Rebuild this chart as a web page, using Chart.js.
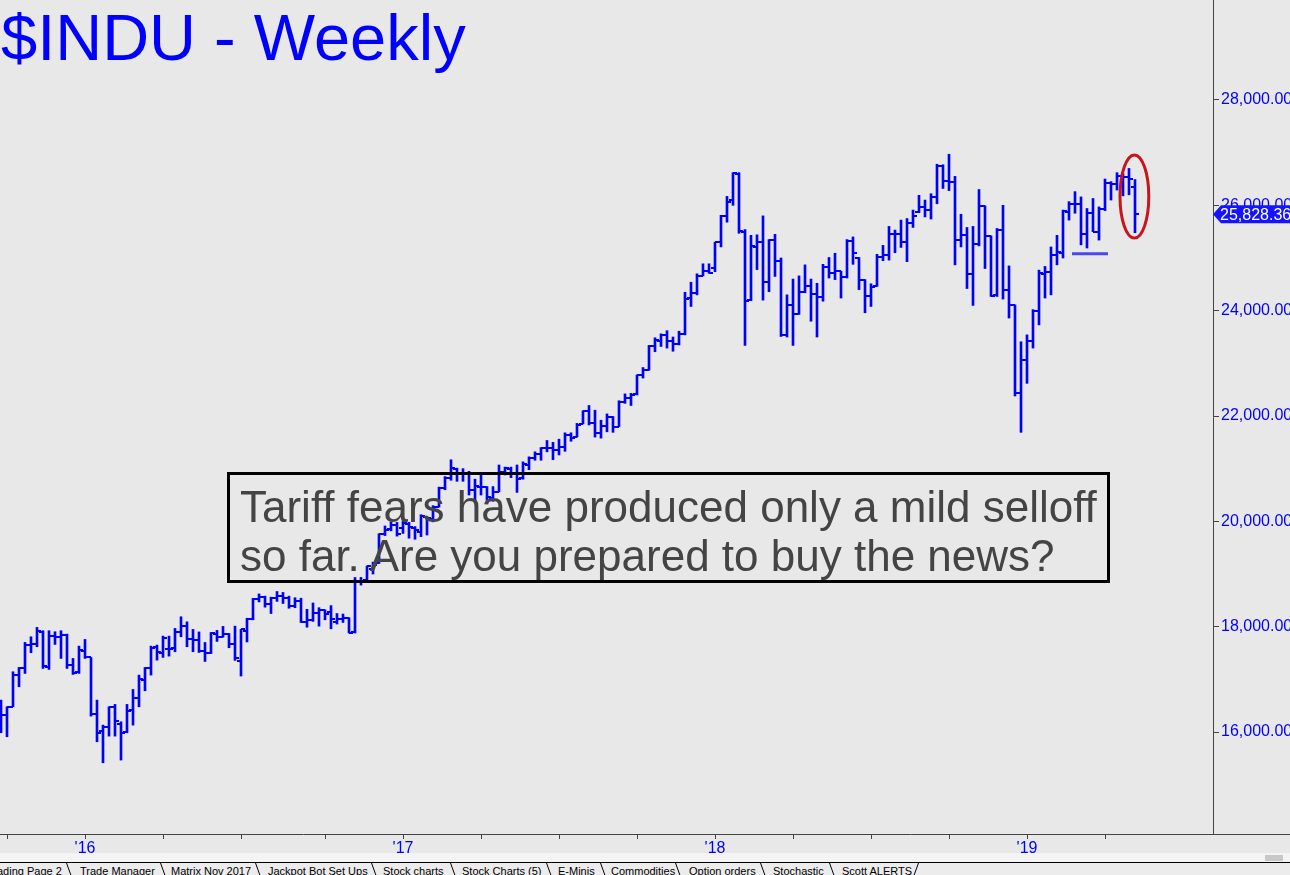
<!DOCTYPE html>
<html>
<head>
<meta charset="utf-8">
<script src="https://cdn.jsdelivr.net/npm/chart.js@4.4.1/dist/chart.umd.min.js"></script>
<style>
  html, body { margin: 0; padding: 0; background: #e8e8e8; overflow: hidden; }
  #wrap { position: relative; width: 1290px; height: 875px; overflow: hidden; font-family: "Liberation Sans", Arial, sans-serif; }
  #c { position: absolute; left: 0; top: 0; }
  .title { position: absolute; left: 1px; top: 5px; font-size: 65px; line-height: 65px; color: #0000ff; white-space: nowrap; }
  .note { position: absolute; left: 227px; top: 472px; width: 883px; height: 111px; box-sizing: border-box; border: 3px solid #000; }
  .note div { position: absolute; left: 10px; font-size: 44px; line-height: 44px; color: #444; white-space: nowrap; }
  .track { position: absolute; left: 0; top: 853px; width: 1290px; height: 9px; background: #f4f4f4; }
  .thumb { position: absolute; left: 1265px; top: 855px; width: 18px; height: 6px; background: #c8c8c8; }
  .tabs { position: absolute; left: 0; top: 862px; width: 1290px; height: 13px; border-top: 1px solid #000; background: #ececec; }
  .tab { position: absolute; top: 2px; font-size: 11px; line-height: 13px; color: #000; white-space: nowrap; }
  .sep { position: absolute; top: 0; width: 1px; height: 14px; background: #000; transform-origin: top; transform: skewX(20deg); }
</style>
</head>
<body>
<div id="wrap">
  <canvas id="c" width="1290" height="875"></canvas>
  <div class="title">$INDU - Weekly</div>
  <div class="note">
    <div style="top:10px">Tariff fears have produced only a mild selloff</div>
    <div style="top:59px">so far. Are you prepared to buy the news?</div>
  </div>
  <div class="track"></div>
  <div class="thumb"></div>
  <div class="tabs" id="tabs"></div>
</div>
<script>
// weekly bars, week ending 25 Sep 2015 (index 0) to 10 May 2019 (index 189)
const opens = [
  16400,16321,16479,17081,17207,17650,17669,17904,17226,17821,
  17809,17840,17271,17144,17543,17416,16340,16024,16087,16479,
  16150,16005,16416,16638,16986,17207,17606,17505,17568,17587,
  17904,18011,17758,17740,17530,17500,17870,17810,17860,17680,
  17350,17925,18150,18520,18570,18430,18545,18580,18550,18400,
  18490,18080,18125,18260,18310,18280,18090,18150,18160,17900,
  18850,18880,19100,19200,19760,19850,19930,19870,19950,19880,
  19800,20080,20050,20270,20640,20820,21000,20900,20920,20590,
  20660,20650,20450,20560,20940,21000,20900,20820,21070,21200,
  21270,21390,21400,21350,21410,21640,21610,21850,22090,21860,
  21680,21810,21990,21800,22270,22350,22410,22770,22870,23330,
  23430,23540,23420,23360,23560,24240,24330,24660,24750,24810,
  25300,25800,26100,26600,25500,24200,25200,25300,24540,25340,
  24950,23540,24100,23930,24360,24460,24310,24260,24830,24720,
  24750,24630,25320,25000,24580,24270,24460,25020,25060,25450,
  25460,25310,25670,25880,25960,25920,26150,26740,26460,26440,
  25340,25440,24690,25270,25990,25410,24300,25540,24390,24100,
  22440,23060,23430,24000,24700,24740,25060,25100,25880,26030,
  26020,25450,25850,25500,25930,26420,26410,26560,26540,26350
];
const highs = [
  16606,16479,17144,17226,17701,17809,17986,17923,17923,17904,
  17923,17859,17397,17631,17758,17416,16606,16131,16479,16524,
  16194,16524,16808,17081,17226,17631,17650,17821,17821,17967,
  18188,18093,17948,17900,17700,17890,17930,18005,17870,18010,
  17950,18160,18537,18622,18580,18560,18668,18650,18580,18550,
  18540,18330,18450,18360,18320,18400,18250,18240,18170,18934,
  18935,19153,19225,19763,19912,19987,19980,19999,19980,19900,
  20126,20090,20298,20650,20850,21169,21010,21000,20950,20800,
  20890,20660,20660,21070,21030,21030,21070,21130,21225,21320,
  21400,21535,21500,21560,21681,21681,21860,22100,22200,22110,
  21920,22040,21990,22290,22420,22430,22780,22920,23340,23485,
  23560,23620,23500,23610,24350,24540,24700,24890,24890,25300,
  25810,26170,26620,26620,25540,25430,25440,25800,25350,25450,
  25000,24300,24600,24660,24870,24600,24520,24880,25010,25090,
  24750,25350,25400,25010,24590,24510,25070,25240,25600,25530,
  25720,25750,25910,26190,26100,26220,26780,26770,26970,26550,
  25830,25580,25600,26300,25990,25420,25560,26000,24850,24110,
  23410,23540,24020,24770,24840,25210,25430,25910,26070,26260,
  26160,25940,26130,25970,26500,26450,26620,26600,26700,26490
];
const lows = [
  15986,15910,16479,16859,17112,17505,17619,17207,17188,17663,
  17397,17207,17093,17112,17397,16302,15815,15416,15922,15922,
  15467,15986,16131,16479,16783,17081,17365,17416,17441,17524,
  17809,17619,17524,17510,17340,17490,17720,17800,17600,17360,
  17063,17710,18130,18470,18370,18250,18480,18440,18350,18360,
  18080,17990,18100,18010,18130,17960,18050,18080,17880,17880,
  18790,18880,19000,19200,19730,19820,19720,19770,19680,19660,
  19710,19740,19990,20270,20600,20780,20760,20760,20500,20410,
  20500,20400,20380,20560,20880,20830,20550,20800,20980,21160,
  21160,21320,21170,21260,21330,21520,21600,21850,21830,21600,
  21580,21700,21690,21800,22240,22200,22400,22720,22870,23220,
  23320,23290,23230,23350,23540,24080,24300,24660,24710,24740,
  25210,25680,26000,25470,23340,24190,24780,24200,24360,24650,
  23510,23500,23340,23930,24340,23800,23500,24180,24620,24590,
  24240,24620,24880,24400,23960,24080,24460,24950,24960,25100,
  25200,24930,25580,25860,25780,25740,26030,26320,26280,24870,
  25210,24420,24100,25230,24800,24270,24270,24220,23860,22380,
  21690,22620,23290,23730,24240,24300,24870,25000,25720,25850,
  25250,25190,25500,25340,25900,26100,26290,26180,26200,25480
];
const closes = [
  16321,16472,17084,17215,17647,17663,17910,17245,17824,17798,
  17848,17265,17128,17552,17425,16346,15988,16093,16466,16205,
  15973,16392,16640,17007,17213,17602,17516,17793,17577,17897,
  18004,17774,17740,17535,17501,17873,17807,17865,17675,17400,
  17949,18147,18516,18571,18432,18543,18576,18553,18395,18492,
  18085,18124,18261,18308,18240,18138,18146,18161,17888,18847,
  18868,19152,19171,19757,19843,19934,19763,19964,19886,19827,
  20094,20071,20269,20624,20822,21005,20903,20915,20597,20663,
  20656,20453,20548,20941,21007,20897,20805,21080,21206,21272,
  21384,21395,21350,21414,21638,21580,21830,22093,21858,21675,
  21814,21988,21798,22268,22350,22405,22774,22872,23329,23434,
  23539,23422,23358,23558,24231,24329,24652,24754,24719,25296,
  25803,26072,26617,25521,24191,25219,25310,24538,25336,24947,
  23533,24103,23933,24360,24463,24311,24263,24831,24715,24753,
  24635,25317,25090,24581,24271,24456,25019,25058,25451,25463,
  25313,25669,25790,25965,25917,26154,26743,26458,26447,25340,
  25444,24689,25271,25989,25413,24286,25538,24389,24101,22445,
  23062,23433,23996,24706,24737,25064,25106,25883,26031,26026,
  25450,25849,25502,25929,26425,26412,26559,26543,26505,25828.36
];

// bar index holding the first trading day of each quarter
const tickBars = [1, 14, 27, 40, 54, 67, 80, 93, 106, 119, 132, 145, 158, 171, 184];
const tickLabels = ['', "'16", '', '', '', "'17", '', '', '', "'18", '', '', '', "'19", ''];
const priceTicks = [16000, 18000, 20000, 22000, 24000, 26000, 28000];

// drawn support line and circled area
const supportBars = [178.5, 184.5];
const supportLevel = 25080;
const ring = { x: 188.9, dx: 2.4, y: 26168, dy: 790 };

const tabNames = ['Trading Page 2', 'Trade Manager', 'Matrix Nov 2017', 'Jackpot Bot Set Ups', 'Stock charts',
  'Stock Charts (5)', 'E-Minis', 'Commodities', 'Option orders', 'Stochastic', 'Scott ALERTS'];
const tabLeft = [-13, 80, 171, 268, 383, 462, 558, 611, 689, 773, 842];
const sepLeft = [66, 160, 255, 371, 450, 546, 600, 675, 760, 829];

const tabs = document.getElementById('tabs');
tabNames.forEach((t, i) => {
  const s = document.createElement('div');
  s.className = 'tab';
  s.style.left = tabLeft[i] + 'px';
  s.textContent = t;
  tabs.appendChild(s);
});
sepLeft.forEach(x => {
  const d = document.createElement('div');
  d.className = 'sep';
  d.style.left = x + 'px';
  tabs.appendChild(d);
});
const endSep = document.createElement('div');
endSep.className = 'sep';
endSep.style.left = '918px';
endSep.style.transform = 'skewX(-20deg)';
tabs.appendChild(endSep);

const BLUE = '#0000ff';
const FONT = '"Liberation Sans", Arial, sans-serif';

function tickMark(side) {
  const c = document.createElement('canvas');
  c.width = 8; c.height = 2;
  const g = c.getContext('2d');
  g.fillStyle = BLUE;
  g.fillRect(side === 'left' ? 0 : 4, 0, 4, 2);
  return c;
}

const fmt = v => v.toLocaleString('en-US', { minimumFractionDigits: 2, maximumFractionDigits: 2 });

const extras = {
  id: 'extras',
  afterDraw(chart) {
    const { ctx, chartArea: a, scales: { x, y } } = chart;
    ctx.save();
    // axis line runs on to the right edge
    ctx.strokeStyle = '#444';
    ctx.lineWidth = 1;
    ctx.beginPath();
    ctx.moveTo(a.right, Math.round(a.bottom) + 0.5);
    ctx.lineTo(chart.width, Math.round(a.bottom) + 0.5);
    ctx.stroke();

    // red ring
    const cx = x.getPixelForValue(ring.x), cy = y.getPixelForValue(ring.y);
    const rx = Math.abs(x.getPixelForValue(ring.x + ring.dx) - cx);
    const ry = Math.abs(y.getPixelForValue(ring.y + ring.dy) - cy);
    ctx.strokeStyle = '#c4161c';
    ctx.lineWidth = 3;
    ctx.beginPath();
    ctx.ellipse(cx, cy, rx, ry, 0, 0, Math.PI * 2);
    ctx.stroke();

    // last price tag
    const last = closes[closes.length - 1];
    const py = y.getPixelForValue(last);
    ctx.fillStyle = '#1414ff';
    ctx.beginPath();
    ctx.moveTo(a.right, py);
    ctx.lineTo(a.right + 8, py - 9);
    ctx.lineTo(chart.width, py - 9);
    ctx.lineTo(chart.width, py + 9);
    ctx.lineTo(a.right + 8, py + 9);
    ctx.closePath();
    ctx.fill();
    ctx.fillStyle = '#fff';
    ctx.font = '16px ' + FONT;
    ctx.textBaseline = 'middle';
    ctx.fillText(fmt(last), a.right + 7, py + 1);
    ctx.restore();
  }
};

new Chart(document.getElementById('c'), {
  type: 'bar',
  data: {
    datasets: [
      {
        type: 'line',
        data: supportBars.map(b => ({ x: b, y: supportLevel })),
        borderColor: '#4848f0',
        borderWidth: 3,
        pointRadius: 0,
        pointHoverRadius: 0
      },
      {
        type: 'bar',
        data: lows.map((l, i) => ({ x: i, y: [l, highs[i]] })),
        backgroundColor: BLUE,
        borderWidth: 0,
        barThickness: 2
      },
      {
        type: 'scatter',
        data: opens.map((v, i) => ({ x: i, y: v })),
        pointStyle: tickMark('left'),
        pointRadius: 3
      },
      {
        type: 'scatter',
        data: closes.map((v, i) => ({ x: i, y: v })),
        pointStyle: tickMark('right'),
        pointRadius: 3
      }
    ]
  },
  options: {
    responsive: false,
    animation: false,
    events: [],
    layout: { padding: 0, autoPadding: false },
    plugins: { legend: { display: false }, tooltip: { enabled: false } },
    scales: {
      x: {
        type: 'linear',
        min: -1 / 6,
        max: 202,
        offset: false,
        afterBuildTicks: s => { s.ticks = tickBars.map(v => ({ value: v })); },
        afterFit: s => { s.height = 41; s.paddingLeft = 0; s.paddingRight = 0; },
        ticks: {
          autoSkip: false,
          maxRotation: 0,
          color: BLUE,
          padding: 0,
          font: { family: FONT, size: 16 },
          callback: (v, i) => tickLabels[i]
        },
        grid: { drawOnChartArea: false, offset: false, tickLength: 5, color: '#444' },
        border: { color: '#444' }
      },
      y: {
        position: 'right',
        min: 14063.5,
        max: 29898.7,
        afterBuildTicks: s => { s.ticks = priceTicks.map(v => ({ value: v })); },
        afterFit: s => { s.width = 77; s.paddingTop = 0; s.paddingBottom = 0; },
        ticks: {
          color: BLUE,
          padding: 2,
          font: { family: FONT, size: 16 },
          callback: v => fmt(v)
        },
        grid: { drawOnChartArea: false, tickLength: 6, color: '#444' },
        border: { color: '#444' }
      }
    }
  },
  plugins: [extras]
});
</script>
</body>
</html>
